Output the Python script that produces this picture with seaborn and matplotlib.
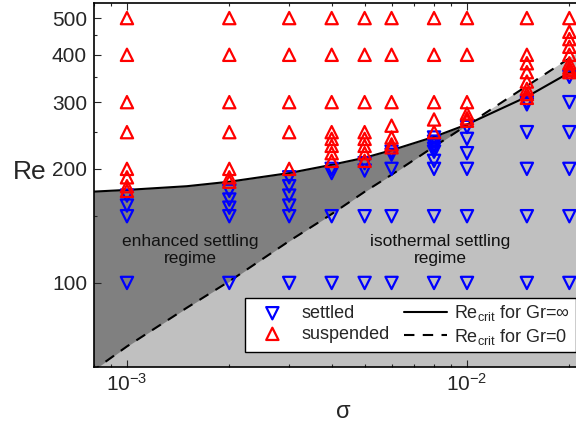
import numpy as np
import pandas as pd
import matplotlib
matplotlib.use('Agg')
import matplotlib.pyplot as plt
import seaborn as sns
from matplotlib.ticker import FixedLocator, NullFormatter, FuncFormatter

# sigma columns of the experiment grid
sigma = [0.001, 0.002, 0.003, 0.004, 0.005, 0.006, 0.008, 0.01, 0.015, 0.02]

# Re values per sigma column
settled_re = [
    [170, 160, 150, 100],
    [175, 166, 158, 150, 100],
    [190, 180, 170, 160, 150, 100],
    [200, 195, 150, 100],
    [207, 198, 150, 100],
    [222, 218, 200, 150, 100],
    [242, 236, 231, 226, 222, 210, 200, 150, 100],
    [258, 240, 220, 200, 150, 100],
    [300, 296, 250, 200, 150, 100],
    [350, 300, 250, 200, 150, 100],
]
suspended_re = [
    [500, 400, 300, 250, 200, 190, 180, 175],
    [500, 400, 300, 250, 200, 190, 185],
    [500, 400, 300, 250, 200],
    [500, 400, 300, 250, 240, 230, 220, 210],
    [500, 400, 300, 250, 240, 230, 220, 210],
    [500, 400, 300, 260, 242, 232, 228],
    [500, 400, 300, 270, 250],
    [500, 400, 300, 280, 272, 268],
    [500, 400, 380, 360, 340, 325, 315, 308],
    [500, 460, 440, 420, 400, 380, 370, 365, 360],
]

# critical Re curves
sigma_line = [0.00078, 0.001, 0.0015, 0.002, 0.003, 0.004, 0.005, 0.006, 0.008, 0.01, 0.015, 0.021]
re_crit_inf = [174, 176, 180, 185, 195, 205, 214, 224, 243, 262, 310, 368]
re_crit_zero = [58, 68, 86, 101, 129, 152, 174, 193, 229, 261, 331, 403]

y_major = [100, 200, 300, 400, 500]
y_minor = [150, 250, 350, 450]

rows = []
for s, vals in zip(sigma, settled_re):
    rows += [(s, v, 'settled') for v in vals]
for s, vals in zip(sigma, suspended_re):
    rows += [(s, v, 'suspended') for v in vals]
df = pd.DataFrame(rows, columns=['sigma', 'Re', 'state'])

sns.set_style('ticks')
plt.rcParams['font.family'] = ['Liberation Sans', 'DejaVu Sans']
plt.rcParams['mathtext.fontset'] = 'custom'
plt.rcParams['mathtext.rm'] = 'Liberation Sans'
plt.rcParams['mathtext.it'] = 'Liberation Sans:italic'

fig = plt.figure(figsize=(5.76, 4.22), dpi=100)
ax = fig.add_axes([94 / 576, 1 - 367 / 422, 482 / 576, 364 / 422])
ax.set_xscale('log')
ax.set_yscale('log')

inf_arr = np.array(re_crit_inf)
zero_arr = np.array(re_crit_zero)
ax.fill_between(sigma_line, 10, re_crit_zero, color='#c0c0c0', lw=0, zorder=0)
ax.fill_between(sigma_line, re_crit_zero, re_crit_inf, where=inf_arr >= zero_arr,
                interpolate=True, color='#808080', lw=0, zorder=0)

sns.lineplot(x=sigma_line, y=re_crit_inf, color='k', lw=1.5, sort=False,
             estimator=None, ax=ax, label=r'Re$_{\rm crit}$ for Gr=∞')
sns.lineplot(x=sigma_line, y=re_crit_zero, color='k', lw=1.5, sort=False,
             estimator=None, ax=ax, linestyle=(0, (5, 4)), label=r'Re$_{\rm crit}$ for Gr=0')

sub = df[df.state == 'settled']
sns.scatterplot(x=sub.sigma, y=sub.Re, marker='v', s=78, facecolor='none',
                edgecolor='#0000ff', linewidth=1.6, ax=ax, label='settled', zorder=3)
sub = df[df.state == 'suspended']
sns.scatterplot(x=sub.sigma, y=sub.Re, marker='^', s=78, facecolor='none',
                edgecolor='#ff0000', linewidth=1.6, ax=ax, label='suspended', zorder=4)

ax.set_xlim(0.0008, 0.02092)
ax.set_ylim(60, 548)

ax.yaxis.set_major_locator(FixedLocator(y_major))
ax.yaxis.set_major_formatter(FuncFormatter(lambda v, p: f'{v:g}'))
ax.yaxis.set_minor_locator(FixedLocator(y_minor))
ax.yaxis.set_minor_formatter(NullFormatter())

ax.tick_params(which='both', direction='in', top=True, right=False, labelsize=15, width=0.8)
ax.tick_params(which='major', length=5)
ax.tick_params(which='minor', length=2.5)
ax.tick_params(axis='y', pad=5)
ax.tick_params(axis='x', pad=4)
for side in ['left', 'top', 'bottom']:
    ax.spines[side].set_linewidth(1.2)
    ax.spines[side].set_color('k')
ax.spines['right'].set_visible(False)

ax.set_xlabel('σ', fontsize=17)
ax.xaxis.set_label_coords(0.517, -0.124)
ax.xaxis.label.set_va('center')
ax.set_ylabel('Re', fontsize=19, rotation=0, ha='center', va='center')
ax.yaxis.set_label_coords(-0.133, 0.536)

ax.text(0.199, 0.321, 'enhanced settling\nregime', transform=ax.transAxes,
        ha='center', va='center', fontsize=12.5, color='#111111')
ax.text(0.718, 0.321, 'isothermal settling\nregime', transform=ax.transAxes,
        ha='center', va='center', fontsize=12.5, color='#111111')

handles, labels = ax.get_legend_handles_labels()
order = ['settled', 'suspended', r'Re$_{\rm crit}$ for Gr=∞', r'Re$_{\rm crit}$ for Gr=0']
hl = {l: h for h, l in zip(handles, labels)}
leg = ax.legend([hl[l] for l in order], order, ncol=2, loc='lower right',
                bbox_to_anchor=(1.0, 15 / 364), borderaxespad=0, frameon=True,
                fancybox=False, edgecolor='k', framealpha=1, fontsize=13,
                handlelength=2.4, handletextpad=0.4, columnspacing=0.8,
                labelspacing=0.2, borderpad=0.3)
leg.get_frame().set_linewidth(1.0)

fig.savefig('out.png', dpi=100)
